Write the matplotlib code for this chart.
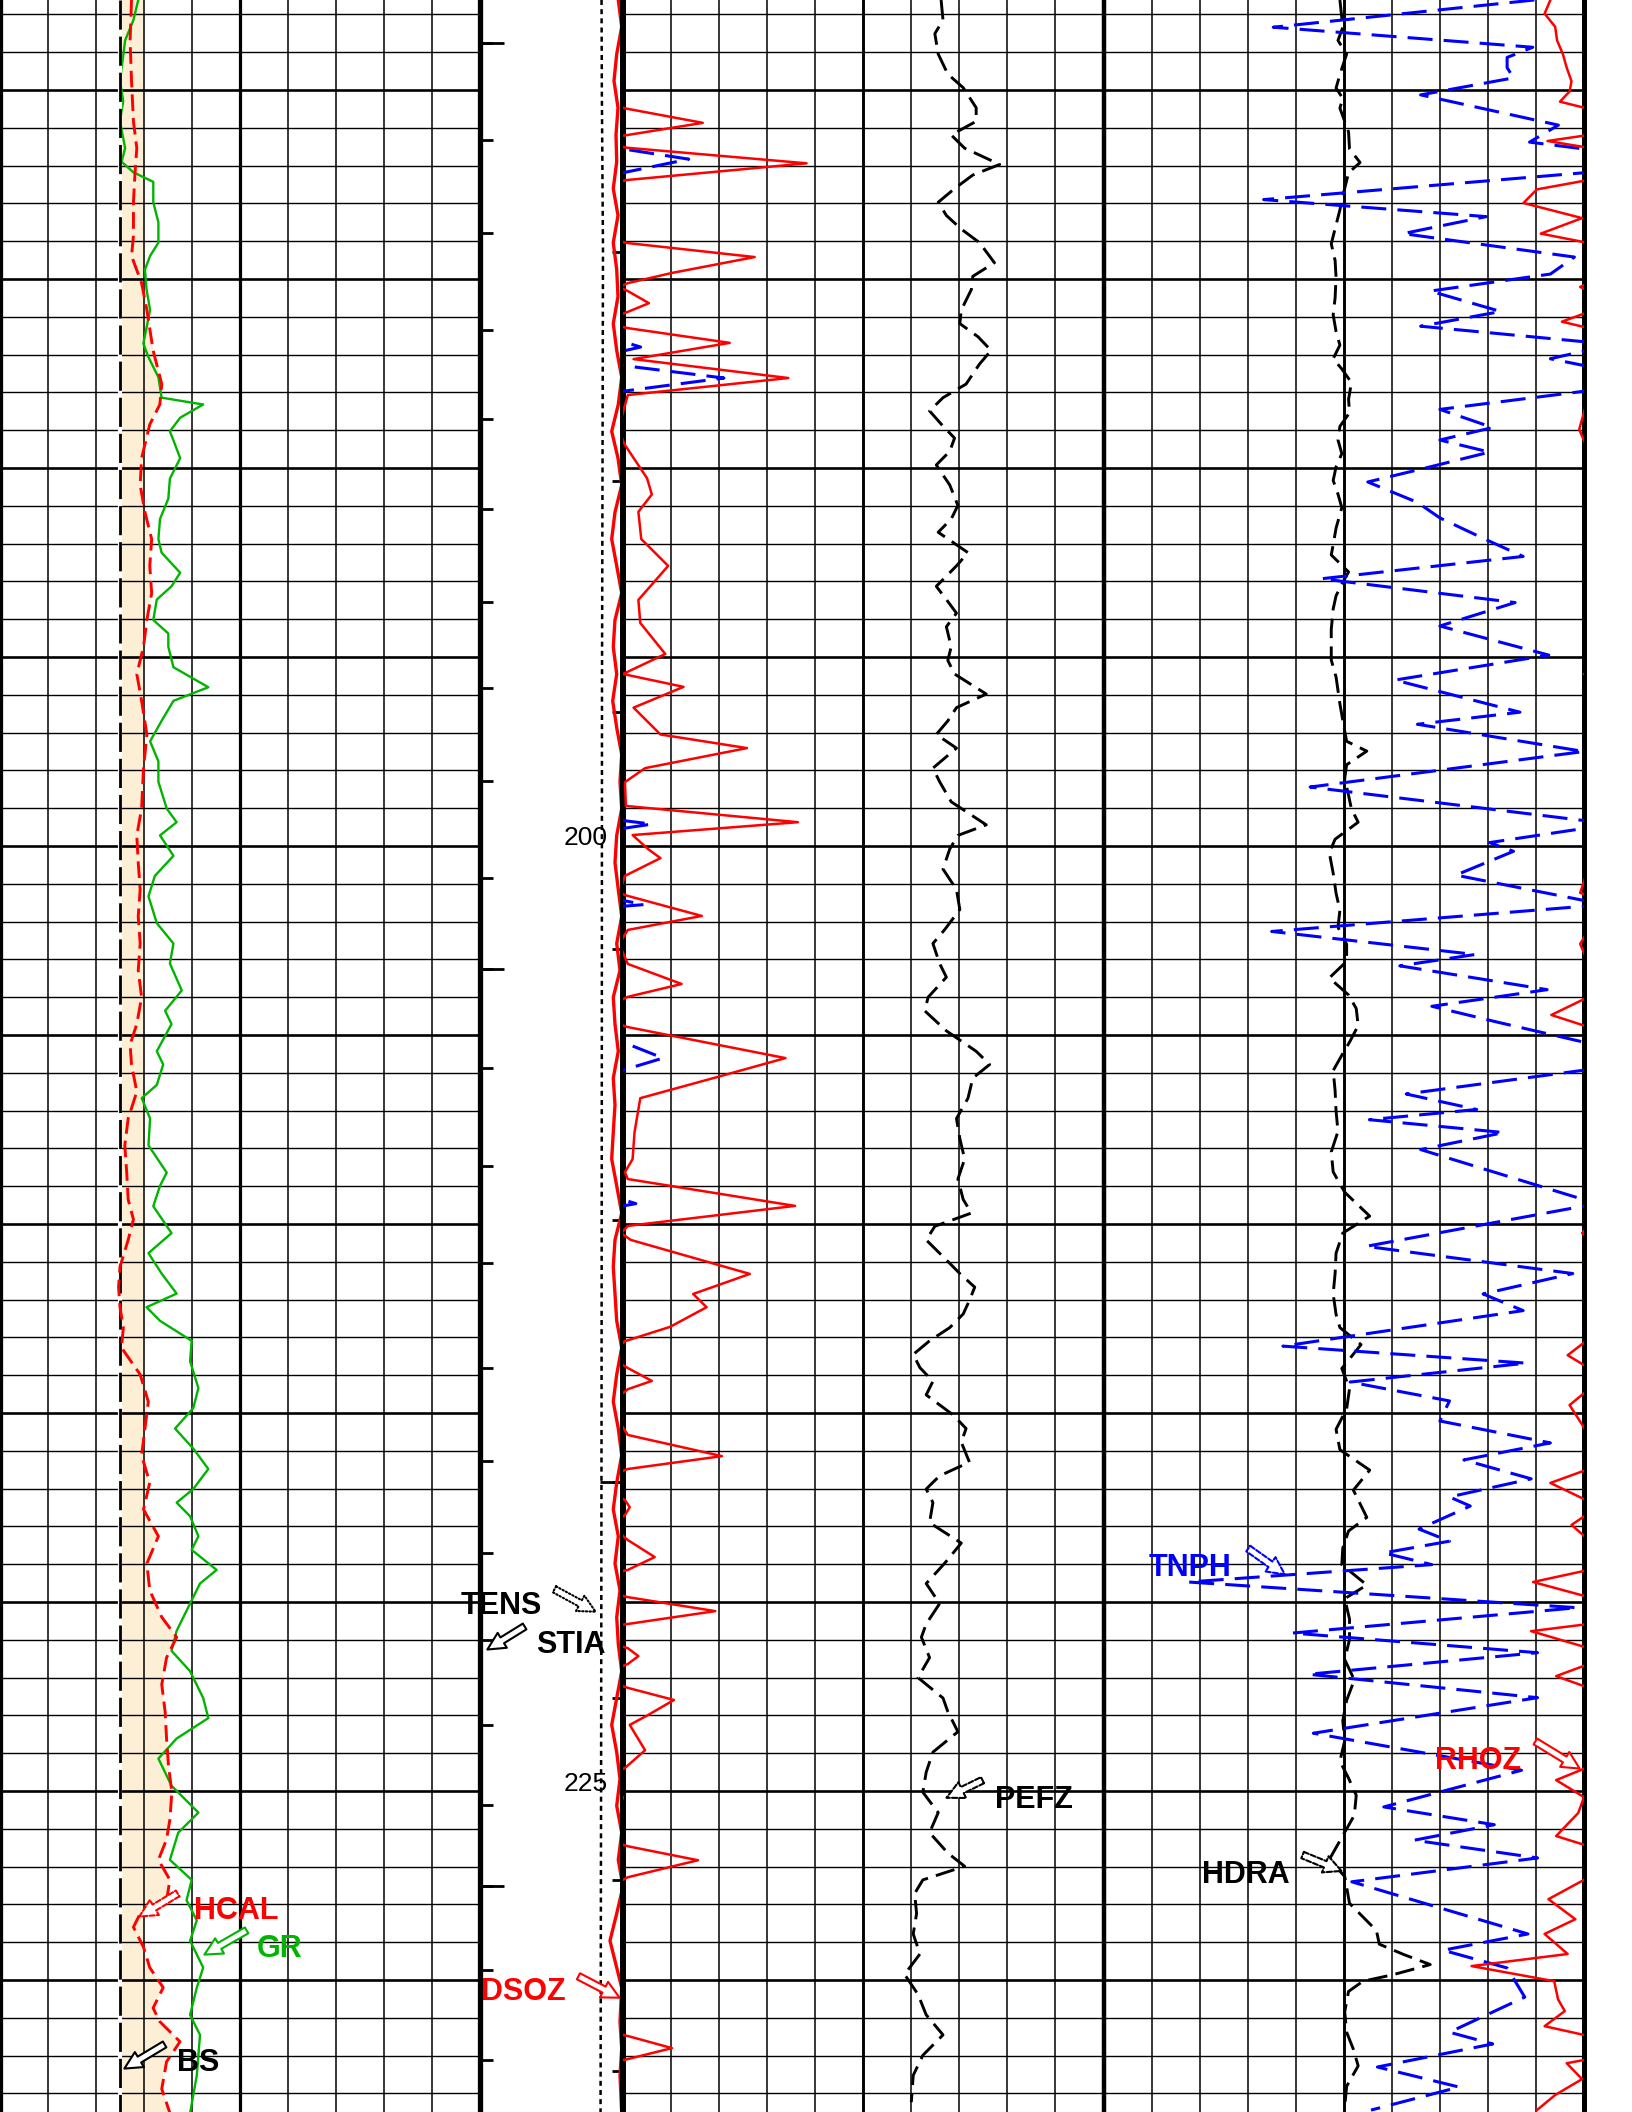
import matplotlib.pyplot as plt
import numpy as np
from matplotlib.patches import FancyArrowPatch

plt.rcParams['font.family'] = ['Liberation Sans', 'DejaVu Sans']
plt.rcParams['lines.scale_dashes'] = False

# depth window of the print (m)
TOP, BOTTOM = 177.62, 233.49

# ---- log readings: (depth m, value) ----
# track 1: GR gAPI (0-150), HCAL in (6-16), bit size
gr_log = [(177.62, 43.2), (178.15, 41.7), (178.69, 39.1), (179.76, 37.5), (180.29, 38.5), (180.83, 37.5),
          (181.54, 39.1), (181.90, 38.0), (182.18, 41.7), (182.43, 47.9), (182.97, 47.9), (183.50, 49.5),
          (184.04, 49.5), (184.39, 46.9), (184.75, 45.3), (185.28, 45.8), (185.82, 46.9), (186.71, 44.8),
          (187.07, 46.4), (187.60, 49.5), (188.14, 50.5), (188.32, 63.5), (188.67, 56.3), (189.03, 53.1),
          (189.38, 54.7), (189.74, 56.3), (190.28, 53.1), (190.81, 52.6), (191.35, 50.0), (191.88, 49.5),
          (192.24, 50.5), (192.77, 56.3), (193.13, 53.6), (193.48, 49.0), (194.02, 47.9), (194.38, 52.6),
          (194.73, 52.6), (195.27, 54.2), (195.80, 65.1), (196.16, 54.2), (196.69, 50.5), (197.23, 46.9),
          (197.76, 49.5), (198.30, 49.5), (199.01, 52.1), (199.37, 55.2), (199.72, 50.0), (200.26, 54.2),
          (200.79, 48.4), (201.33, 46.4), (202.04, 49.0), (202.58, 54.2), (203.11, 53.1), (203.82, 56.8),
          (204.36, 51.6), (204.71, 53.6), (205.43, 49.0), (205.78, 51.0), (206.32, 49.0), (206.67, 44.3),
          (207.21, 46.9), (207.92, 46.4), (208.64, 52.1), (208.99, 50.0), (209.53, 47.9), (210.24, 53.6),
          (210.77, 46.4), (211.31, 50.5), (211.84, 55.2), (212.20, 45.8), (212.56, 50.0), (213.09, 59.9),
          (213.63, 59.4), (214.34, 62.0), (214.87, 60.4), (215.41, 54.7), (215.94, 60.4), (216.48, 65.1),
          (217.01, 60.4), (217.37, 55.2), (217.73, 59.4), (218.26, 62.0), (218.62, 59.9), (219.15, 67.7),
          (219.51, 62.5), (220.04, 59.4), (220.76, 55.2), (221.29, 53.6), (221.83, 59.4), (222.54, 63.5),
          (223.07, 65.1), (223.61, 55.2), (224.14, 49.5), (224.86, 53.6), (225.57, 62.0), (226.10, 55.7),
          (226.82, 53.1), (227.35, 59.9), (227.89, 58.3), (228.42, 61.5), (228.96, 59.4), (229.67, 63.5),
          (230.20, 61.5), (230.92, 59.4), (231.45, 62.5), (232.52, 61.5), (233.52, 59.4)]

hcal_log = [(177.62, 8.74), (178.69, 8.71), (179.76, 8.74), (180.83, 8.78), (181.54, 8.85), (182.25, 8.81),
            (182.97, 8.78), (183.86, 8.78), (184.39, 8.74), (185.11, 8.95), (185.82, 9.06), (186.89, 9.19),
            (187.78, 9.37), (188.32, 9.33), (188.85, 9.12), (189.74, 8.95), (190.45, 8.92), (191.17, 9.02),
            (191.88, 9.16), (192.59, 9.12), (193.31, 9.16), (194.02, 9.06), (194.73, 8.99), (195.45, 8.85),
            (196.16, 8.95), (197.05, 9.06), (197.94, 8.99), (199.01, 8.95), (199.72, 8.85), (200.44, 8.88),
            (201.15, 8.92), (201.86, 8.88), (202.58, 8.92), (203.29, 8.88), (204.00, 8.95), (204.71, 8.85),
            (205.25, 8.71), (205.78, 8.74), (206.50, 8.85), (207.21, 8.67), (207.92, 8.60), (208.64, 8.64),
            (209.35, 8.67), (209.88, 8.78), (210.42, 8.67), (211.13, 8.50), (211.67, 8.47), (212.20, 8.50),
            (212.74, 8.57), (213.27, 8.53), (213.98, 8.92), (214.70, 9.09), (215.41, 9.02), (216.12, 8.95),
            (216.84, 9.12), (217.55, 8.99), (218.26, 9.30), (218.98, 9.06), (219.69, 9.12), (220.40, 9.37),
            (220.93, 9.68), (221.47, 9.47), (222.18, 9.37), (222.90, 9.44), (223.61, 9.47), (224.32, 9.51),
            (225.03, 9.58), (225.75, 9.54), (226.28, 9.47), (226.82, 9.30), (227.35, 9.54), (227.89, 9.47),
            (228.24, 8.92), (228.60, 8.78), (229.13, 8.99), (229.67, 9.12), (230.20, 9.40), (230.74, 9.19),
            (231.10, 9.33), (231.63, 9.75), (232.16, 9.47), (232.88, 9.37), (233.52, 9.54)]

bs_log = [(177.62, 8.5), (233.49, 8.5)]
shade_ref = 9.0  # in, right edge of the hole shading where HCAL is smaller

# depth track: STIA (0-100), DSOZ in (2 -> 0)
stia_log = [(177.62, 85.0), (180.0, 85.2), (184.2, 86.0), (188.0, 85.8), (196.0, 85.3),
            (205.0, 85.2), (215.0, 85.0), (224.0, 84.7), (233.49, 84.3)]

dsoz_log = [(177.62, 0.066), (178.33, 0.018), (179.05, 0.088), (179.76, 0.126), (180.47, 0.070),
            (181.19, 0.098), (181.90, 0.088), (182.61, 0.136), (183.32, 0.070), (184.04, 0.136),
            (184.75, 0.088), (185.46, 0.070), (186.18, 0.136), (186.89, 0.088), (187.60, 0.018),
            (188.32, 0.066), (189.03, 0.158), (189.74, 0.070), (190.45, 0.018), (191.17, 0.112),
            (191.88, 0.158), (192.59, 0.088), (193.31, 0.018), (194.02, 0.112), (194.73, 0.136),
            (195.45, 0.088), (196.16, 0.144), (196.87, 0.088), (197.58, 0.018), (198.30, 0.042),
            (199.01, 0.018), (199.72, 0.088), (200.44, 0.112), (201.15, 0.066), (201.86, 0.018),
            (202.58, 0.088), (203.29, 0.042), (204.00, 0.136), (204.71, 0.112), (205.43, 0.066),
            (206.14, 0.136), (206.85, 0.112), (207.57, 0.136), (208.28, 0.158), (208.99, 0.088),
            (209.71, 0.018), (210.42, 0.112), (211.13, 0.136), (211.84, 0.112), (212.56, 0.088),
            (213.27, 0.018), (213.98, 0.088), (214.70, 0.136), (215.41, 0.066), (216.12, 0.018),
            (216.84, 0.088), (217.55, 0.136), (218.26, 0.066), (218.98, 0.112), (219.69, 0.042),
            (220.40, 0.088), (221.11, 0.066), (221.83, 0.018), (222.54, 0.088), (223.25, 0.158),
            (223.97, 0.088), (224.68, 0.042), (225.39, 0.088), (226.10, 0.018), (226.82, 0.066),
            (227.53, 0.000), (228.24, 0.088), (228.96, 0.182), (229.67, 0.088), (230.20, 0.018),
            (231.10, 0.042), (231.81, 0.018), (232.52, 0.042), (233.52, 0.018)]

# time marks along the depth track
marks_left = [178.76, 181.32, 183.78, 186.35, 188.70, 191.09, 193.55, 195.82, 198.28, 200.85, 203.25,
              205.87, 208.47, 211.03, 213.81, 216.27, 218.70, 221.01, 223.25, 225.37, 227.51, 229.74, 232.12]
marks_right = [184.29, 190.35, 196.46, 202.73, 209.89, 216.83, 222.54, 227.35, 232.41]
depth_labels = [200, 225]

# tracks 2-3: PEFZ (0-20), TNPH v/v (0.45 -> -0.15), RHOZ g/cm3 (1.95-2.95), HDRA (-0.75-0.25)
pefz_log = [(177.62, 6.62), (178.15, 6.66), (178.51, 6.49), (179.05, 6.56), (179.58, 6.76), (179.94, 7.08),
            (180.47, 7.35), (180.83, 7.35), (181.19, 6.83), (181.54, 7.11), (181.97, 7.84), (182.25, 7.28),
            (182.61, 6.90), (182.97, 6.56), (183.32, 6.73), (183.68, 7.04), (184.04, 7.42), (184.57, 7.73),
            (184.93, 7.28), (185.28, 7.25), (185.82, 7.04), (186.18, 7.01), (186.53, 7.39), (186.89, 7.66),
            (187.25, 7.42), (187.78, 7.14), (188.14, 6.66), (188.49, 6.38), (188.85, 6.63), (189.21, 6.90),
            (189.56, 6.80), (189.92, 6.52), (190.45, 6.80), (190.99, 6.97), (191.35, 6.83), (191.70, 6.56),
            (192.24, 7.18), (192.59, 6.94), (193.13, 6.52), (193.48, 6.73), (193.84, 6.94), (194.20, 6.73),
            (194.73, 6.83), (195.09, 6.76), (195.45, 6.90), (195.98, 7.56), (196.34, 6.94), (196.69, 6.76),
            (197.05, 6.52), (197.41, 6.94), (197.94, 6.45), (198.30, 6.59), (198.83, 6.83), (199.44, 7.56),
            (199.72, 6.97), (200.08, 6.80), (200.61, 6.66), (201.15, 6.94), (201.68, 7.01), (202.22, 6.69),
            (202.58, 6.45), (203.11, 6.59), (203.47, 6.73), (204.00, 6.35), (204.36, 6.28), (204.89, 6.73),
            (205.43, 7.35), (205.78, 7.63), (206.14, 7.28), (206.67, 7.18), (207.21, 6.94), (207.74, 7.01),
            (208.28, 7.11), (208.81, 6.97), (209.35, 7.08), (209.71, 7.25), (210.06, 6.49), (210.42, 6.31),
            (210.95, 6.73), (211.31, 7.01), (211.67, 7.32), (212.02, 7.21), (212.38, 7.08), (212.74, 6.80),
            (213.09, 6.38), (213.45, 6.04), (213.80, 6.18), (214.16, 6.45), (214.52, 6.31), (215.05, 6.87),
            (215.41, 7.14), (215.77, 7.04), (216.30, 7.21), (216.66, 6.59), (217.01, 6.31), (217.37, 6.45),
            (217.90, 6.38), (218.44, 7.04), (218.98, 6.69), (219.51, 6.31), (220.04, 6.59), (220.58, 6.31),
            (220.93, 6.21), (221.47, 6.38), (222.00, 6.14), (222.54, 6.66), (222.90, 6.76), (223.43, 6.97),
            (223.97, 6.45), (224.50, 6.31), (225.03, 6.24), (225.57, 6.56), (226.10, 6.38), (226.64, 6.76),
            (226.99, 7.11), (227.35, 6.24), (227.71, 6.07), (228.24, 6.11), (228.78, 6.04), (229.31, 6.18),
            (229.85, 5.86), (230.38, 6.14), (230.92, 6.31), (231.45, 6.66), (231.99, 6.24), (232.52, 6.04),
            (233.23, 6.00)]

tnph_log = [(177.62, -0.119), (178.34, 0.044), (178.87, -0.118), (179.14, -0.102), (179.41, -0.102),
            (179.68, -0.106), (180.13, -0.048), (180.93, -0.134), (181.38, -0.116), (181.56, -0.150),
            (181.83, -0.191), (182.19, -0.150), (182.90, 0.050), (183.35, -0.089), (183.80, -0.037),
            (184.42, -0.144), (184.87, -0.129), (185.32, -0.054), (185.86, -0.098), (186.25, -0.048),
            (186.66, -0.150), (186.80, -0.161), (187.11, -0.129), (187.29, -0.150), (187.62, -0.213),
            (187.97, -0.150), (188.45, -0.060), (188.93, -0.093), (189.26, -0.060), (189.58, -0.091),
            (189.97, -0.054), (190.37, -0.015), (190.91, -0.046), (191.32, -0.060), (191.86, -0.087),
            (192.34, -0.112), (192.93, 0.014), (193.56, -0.107), (194.18, -0.060), (194.95, -0.128),
            (195.61, -0.032), (196.46, -0.110), (196.78, -0.046), (197.50, -0.150), (198.44, 0.021),
            (199.42, -0.168), (199.91, -0.091), (200.14, -0.106), (200.77, -0.070), (201.55, -0.163),
            (202.26, 0.045), (202.87, -0.082), (203.17, -0.035), (203.80, -0.127), (204.24, -0.055),
            (204.66, -0.096), (205.19, -0.150), (205.61, -0.175), (205.93, -0.150), (206.56, -0.039),
            (206.97, -0.083), (207.24, -0.016), (207.58, -0.100), (208.03, -0.048), (209.46, -0.158),
            (210.59, -0.014), (211.31, -0.143), (211.85, -0.087), (212.29, -0.112), (213.23, 0.038),
            (213.68, -0.114), (214.18, -0.004), (214.68, -0.066), (215.21, -0.060), (215.79, -0.129),
            (216.24, -0.075), (216.74, -0.117), (217.22, -0.066), (217.46, -0.079), (218.07, -0.047),
            (218.39, -0.066), (218.70, -0.025), (219.01, -0.055), (219.47, 0.097), (220.15, -0.146),
            (220.82, 0.032), (221.34, -0.121), (221.91, 0.022), (222.53, -0.121), (223.47, 0.019),
            (224.45, -0.111), (225.42, -0.025), (225.89, -0.094), (226.30, -0.044), (226.77, -0.121),
            (227.40, -0.005), (228.78, -0.115), (229.21, -0.062), (229.68, -0.102), (230.45, -0.113),
            (231.38, -0.066), (231.69, -0.093), (232.30, -0.021), (232.83, -0.072), (233.44, -0.017)]

rhoz_log = [(177.62, 2.915), (177.98, 2.909), (178.33, 2.920), (178.69, 2.922), (179.05, 2.928),
            (179.41, 2.932), (179.77, 2.937), (180.04, 2.935), (180.31, 2.925), (180.50, 2.955),
            (180.87, 3.033), (181.19, 2.955), (181.35, 2.912), (181.53, 2.955), (181.94, 3.141),
            (182.38, 2.955), (182.63, 2.901), (182.99, 2.887), (183.39, 2.948), (183.80, 2.905),
            (184.05, 2.955), (184.42, 3.087), (184.84, 3.001), (185.11, 2.955), (185.21, 2.946),
            (185.32, 2.955), (185.64, 2.977), (185.87, 2.955), (186.13, 2.927), (186.30, 2.955),
            (186.69, 3.061), (187.12, 2.961), (187.62, 3.122), (188.07, 2.955), (188.98, 2.945),
            (189.39, 2.952), (190.27, 2.975), (190.70, 2.980), (191.16, 2.966), (191.88, 2.969),
            (192.59, 2.997), (193.49, 2.966), (194.10, 2.968), (194.92, 2.994), (195.45, 2.950),
            (195.79, 3.013), (196.34, 2.961), (197.05, 2.989), (197.41, 3.079), (197.94, 2.973),
            (198.31, 2.952), (198.94, 2.953), (199.37, 3.132), (199.71, 2.960), (200.08, 2.976),
            (200.32, 2.989), (200.79, 2.952), (201.24, 2.946), (201.32, 2.955), (201.85, 3.032),
            (202.22, 2.955), (202.59, 2.946), (203.12, 2.955), (203.65, 3.011), (203.99, 2.955),
            (204.47, 2.916), (204.79, 2.955), (205.61, 3.119), (206.14, 3.044), (206.67, 2.968),
            (207.57, 2.962), (208.28, 2.960), (208.63, 2.952), (208.81, 2.955), (209.52, 3.129),
            (210.05, 2.955), (210.24, 2.948), (210.42, 2.958), (211.32, 3.082), (211.85, 3.023),
            (212.20, 3.037), (212.72, 2.999), (213.10, 2.952), (213.47, 2.933), (213.81, 2.955),
            (214.15, 2.980), (214.37, 2.955), (214.79, 2.935), (215.58, 2.955), (216.14, 3.053),
            (216.48, 2.955), (216.85, 2.915), (217.30, 2.952), (217.49, 2.957), (217.70, 2.952),
            (217.96, 2.937), (218.36, 2.955), (218.81, 2.983), (219.15, 2.955), (219.47, 2.897),
            (219.87, 2.955), (220.24, 3.046), (220.58, 2.955), (220.77, 2.895), (221.22, 2.955),
            (221.43, 2.966), (221.64, 2.955), (221.96, 2.921), (222.27, 2.955), (222.59, 3.003),
            (222.99, 2.976), (223.25, 2.957), (223.92, 2.973), (224.39, 2.952), (224.71, 2.921),
            (225.16, 2.950), (225.58, 2.944), (226.19, 2.921), (226.46, 2.955), (226.83, 3.028),
            (227.28, 2.955), (227.86, 2.913), (228.39, 2.941), (228.78, 2.909), (229.31, 2.933),
            (229.63, 2.833), (230.03, 2.919), (230.51, 2.923), (230.82, 2.930), (231.22, 2.909),
            (231.48, 2.955), (231.80, 3.001), (232.09, 2.955), (232.20, 2.932), (232.62, 2.948),
            (233.04, 2.920), (233.44, 2.901)]

hdra_log = [(177.62, -0.004), (178.34, -0.001), (178.69, -0.006), (179.05, 0.003), (179.59, -0.004),
            (179.95, -0.008), (180.22, -0.001), (180.48, -0.004), (181.11, 0.005), (181.56, 0.006),
            (181.92, 0.017), (182.19, 0.005), (182.81, -0.001), (183.17, -0.004), (184.07, -0.013),
            (184.51, -0.009), (184.96, -0.008), (185.50, -0.009), (185.95, -0.011), (186.39, -0.008),
            (186.75, -0.004), (187.11, -0.011), (187.38, -0.002), (187.74, 0.008), (188.18, 0.005),
            (188.54, 0.006), (188.90, -0.004), (189.26, -0.006), (189.62, -0.002), (189.97, -0.008),
            (190.33, -0.011), (190.69, -0.006), (191.05, -0.002), (191.59, -0.008), (192.03, -0.011),
            (192.30, -0.013), (192.75, 0.005), (193.02, -0.001), (193.38, -0.008), (193.73, -0.011),
            (194.27, -0.013), (195.08, -0.013), (195.53, -0.008), (196.24, -0.004), (196.96, 0.001),
            (197.23, 0.003), (197.49, 0.024), (197.85, 0.003), (198.21, 0.001), (198.66, 0.005),
            (199.02, 0.008), (199.37, 0.015), (199.82, -0.009), (200.18, -0.015), (200.72, -0.011),
            (201.25, -0.008), (201.70, -0.004), (202.15, -0.006), (202.60, 0.003), (203.05, 0.003),
            (203.49, -0.015), (203.94, 0.005), (204.30, 0.013), (204.75, 0.015), (205.19, 0.006),
            (205.40, 0.001), (205.94, -0.011), (206.47, -0.009), (207.01, -0.008), (207.55, -0.006),
            (208.09, -0.013), (208.62, -0.011), (209.16, 0.001), (209.79, 0.027), (210.24, -0.001),
            (210.77, -0.008), (211.31, -0.009), (211.85, -0.011), (212.39, -0.008), (212.74, -0.004),
            (213.19, 0.018), (213.82, -0.002), (214.36, 0.006), (214.89, 0.003), (215.43, -0.008),
            (215.97, -0.004), (216.51, 0.027), (217.04, 0.010), (217.76, 0.024), (218.12, 0.005),
            (218.57, -0.001), (219.01, -0.002), (219.55, 0.024), (219.91, 0.001), (220.45, 0.006),
            (220.99, 0.006), (221.52, 0.001), (222.06, 0.011), (222.60, 0.003), (223.14, -0.001),
            (223.67, 0.001), (224.21, -0.004), (224.66, 0.005), (225.11, 0.013), (225.64, 0.011),
            (226.18, -0.001), (226.81, -0.015), (227.26, 0.001), (227.97, 0.006), (228.69, 0.034),
            (229.05, 0.037), (229.32, 0.062), (229.59, 0.090), (229.86, 0.051), (230.03, 0.020),
            (230.30, 0.005), (230.84, 0.001), (231.38, 0.003), (231.83, 0.010), (232.27, 0.015),
            (232.81, 0.003), (233.35, 0.001)]


def split(log):
    a = np.array(log)
    return a[:, 0], a[:, 1]


RED, BLUE, GREEN, BLACK = '#ff0000', '#0000ff', '#00b400', 'black'
W, H = 1632, 2112

fig = plt.figure(figsize=(W / 100, H / 100), dpi=100)
n_axes = [0]


def track(x0, x1, xlim):
    n_axes[0] += 1
    ax = fig.add_axes([x0 / W, 0, (x1 - x0) / W, 1], label='t%d' % n_axes[0])
    ax.set_xlim(*xlim)
    ax.set_ylim(BOTTOM, TOP)
    ax.axis('off')
    return ax


def hgrid(ax):
    for d in range(178, 234):
        ax.axhline(d, color=BLACK, lw=1.9 if d % 5 == 0 else 1.0, zorder=1)


# ---------- track 1 ----------
ax_fill = track(0, 480, (6, 16))
hd, hv = split(hcal_log)
ax_fill.fill_betweenx(hd, bs_log[0][1], np.maximum(hv, shade_ref), color='#fdefd6', lw=0)

ax1 = track(0, 480, (0, 150))
hgrid(ax1)
for g in range(15, 150, 15):
    ax1.axvline(g, color=BLACK, lw=2.3 if g == 75 else 1.1, zorder=1)
ax1.axvline(0, color=BLACK, lw=4.5, clip_on=False)
ax1.axvline(150, color=BLACK, lw=3.8, clip_on=False)
d, v = split(gr_log)
ax1.plot(v, d, color=GREEN, lw=1.7, zorder=3)

ax_cal = track(0, 480, (6, 16))
d, v = split(bs_log)
ax_cal.plot(v, d, color='white', lw=3.0, zorder=2)
ax_cal.plot(v, d, color=BLACK, lw=2.0, dashes=(21, 5), zorder=2)
ax_cal.plot(hv, hd, color=RED, lw=2.1, dashes=(12, 5), zorder=3)

# ---------- depth track ----------
axd = track(480, 623, (0, 1))
axd.hlines(marks_left, 0, 0.09, color=BLACK, lw=2.0)
axd.hlines(marks_left[::10], 0, 0.165, color=BLACK, lw=2.0)
axd.hlines(marks_right, 0.923, 1.0, color=BLACK, lw=2.0)
axd.hlines(marks_right[5], 0.839, 1.0, color=BLACK, lw=2.0)
for lab in depth_labels:
    axd.text(0.74, lab - 0.2, str(lab), ha='center', va='center', fontsize=19, zorder=3)

ax_stia = track(480, 623, (0, 100))
d, v = split(stia_log)
ax_stia.plot(v, d, color=BLACK, lw=1.8, dashes=(3.6, 3.0))

ax_dsoz = track(480, 623, (2, 0))
d, v = split(dsoz_log)
ax_dsoz.plot(v, d, color=RED, lw=2.4, clip_on=False)

# ---------- tracks 2 and 3 ----------
ax23 = track(623, 1584, (0, 20))
hgrid(ax23)
for g in range(1, 20):
    lw = 3.2 if g == 10 else (2.1 if g in (5, 15) else 1.1)
    ax23.axvline(g, color=BLACK, lw=lw, zorder=1)
ax23.axvline(0, color=BLACK, lw=4.3, clip_on=False, zorder=5)
ax23.axvline(20, color=BLACK, lw=3.6, clip_on=False, zorder=5)
d, v = split(pefz_log)
ax23.plot(v, d, color=BLACK, lw=2.1, dashes=(14, 6), zorder=3)

ax_hdra = track(623, 1584, (-0.75, 0.25))
d, v = split(hdra_log)
ax_hdra.plot(v, d, color=BLACK, lw=2.1, dashes=(14, 6))

ax_tnph = track(623, 1584, (0.45, -0.15))
d, v = split(tnph_log)
ax_tnph.plot(v, d, color=BLUE, lw=2.2, dashes=(18, 8))
ax_tnph.plot(v + 0.6, d, color=BLUE, lw=2.2, dashes=(18, 8))   # wrap-around

ax_rhoz = track(623, 1584, (1.95, 2.95))
d, v = split(rhoz_log)
ax_rhoz.plot(v, d, color=RED, lw=1.8)
ax_rhoz.plot(v - 1.0, d, color=RED, lw=1.8)                     # wrap-around

# ---------- curve callouts (pixel space) ----------
ax_lab = fig.add_axes([0, 0, 1, 1], label='labels')
ax_lab.set_xlim(0, W)
ax_lab.set_ylim(H, 0)
ax_lab.axis('off')

callouts = [
    ('TENS', BLACK, (501, 1606), (527, 1625), (485, 1651), '-'),
    ('STIA', BLACK, (571, 1645), (552, 1588), (598, 1613), ':'),
    ('DSOZ', RED, (523, 1992), (576, 1975), (622, 1999), '-'),
    ('HCAL', RED, (236, 1911), (180, 1892), (137, 1918), '--'),
    ('GR', GREEN, (280, 1949), (249, 1929), (202, 1956), '-'),
    ('BS', BLACK, (198, 2063), (167, 2043), (122, 2070), '-'),
    ('PEFZ', BLACK, (1034, 1800), (985, 1779), (944, 1799), '--'),
    ('TNPH', BLUE, (1190, 1568), (1246, 1547), (1287, 1576), '--'),
    ('RHOZ', RED, (1478, 1761), (1533, 1740), (1582, 1770), '-'),
    ('HDRA', BLACK, (1246, 1875), (1300, 1854), (1344, 1872), '--'),
]
for name, col, txy, tail, tip, ls in callouts:
    ax_lab.text(*txy, name, color=col, fontsize=22, fontweight='bold', ha='center', va='center')
    ax_lab.add_patch(FancyArrowPatch(tail, tip, mutation_scale=14, fc='white', ec=col, lw=1.5, ls=ls,
                                     arrowstyle='simple,head_length=0.9,head_width=0.9,tail_width=0.35'))

fig.savefig('out.png', dpi=100, facecolor='white')
